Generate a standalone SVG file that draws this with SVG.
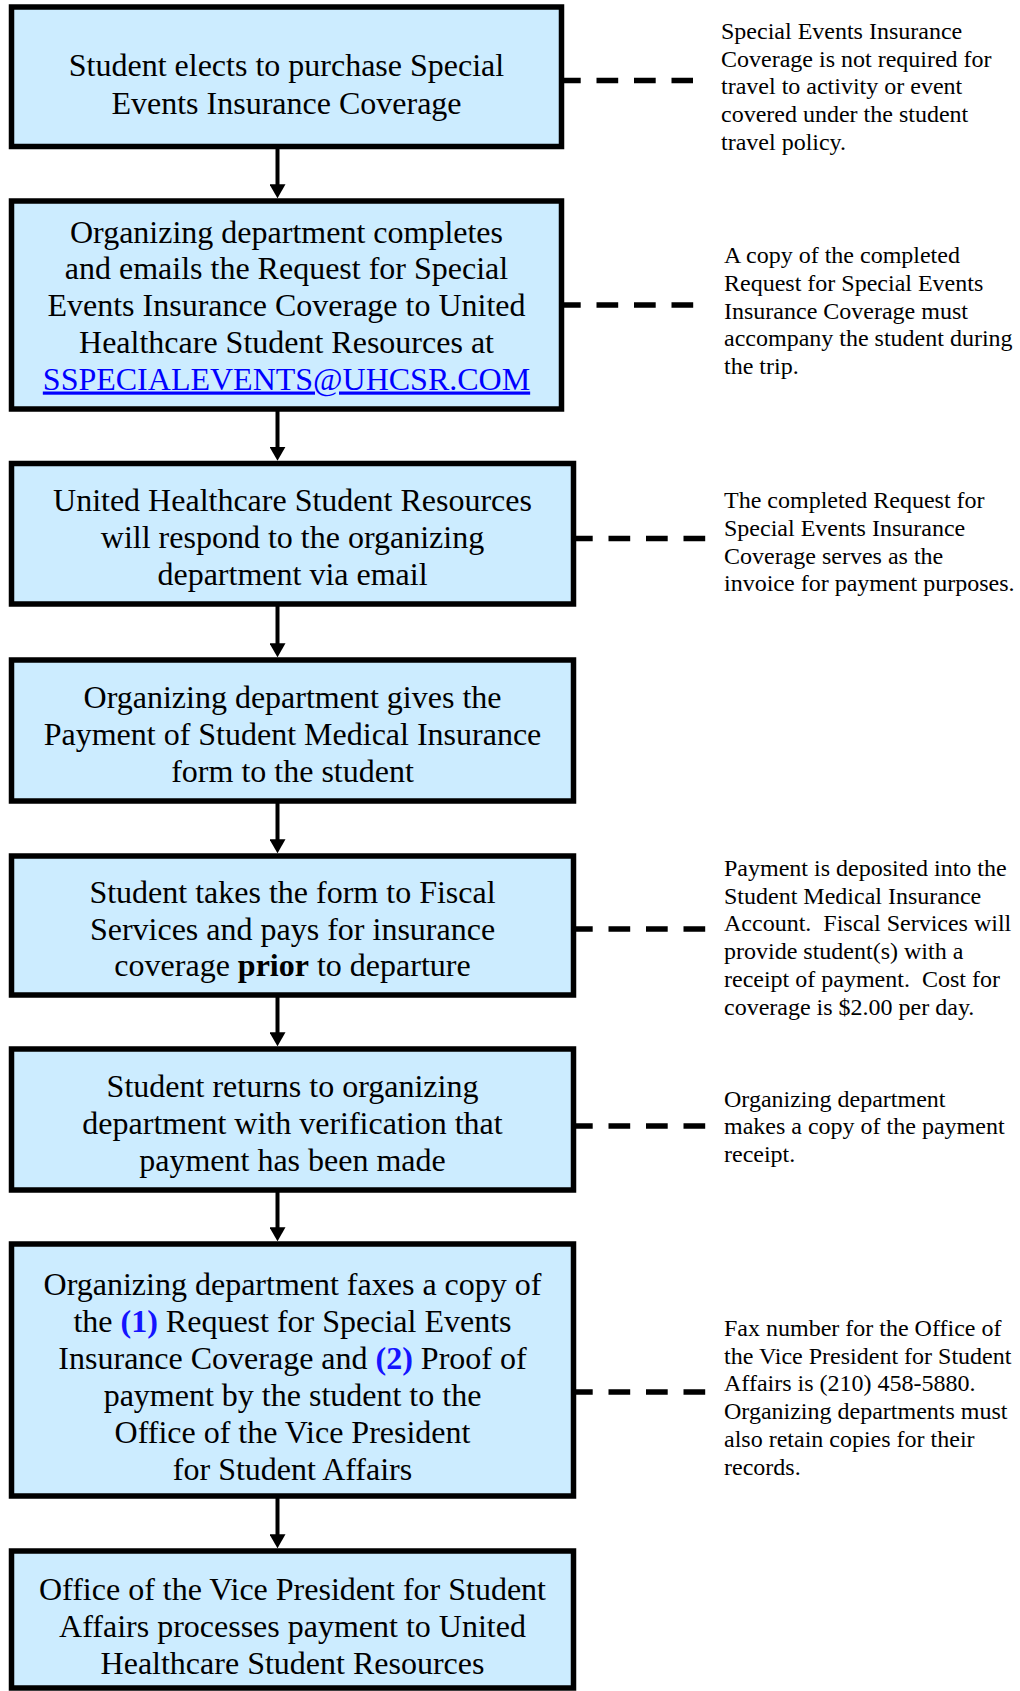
<svg xmlns="http://www.w3.org/2000/svg" width="1020" height="1691" viewBox="0 0 1020 1691">
<style>
.box{fill:#CCECFF;stroke:#000;stroke-width:5.5}
.bt{font-family:"Liberation Serif","Times New Roman",serif;font-size:32px;fill:#000;text-anchor:middle}
.nt{font-family:"Liberation Serif","Times New Roman",serif;font-size:24px;fill:#000}
.flow{stroke:#000;stroke-width:4;fill:none}
.dash{stroke:#000;stroke-width:5.5;stroke-dasharray:21.7 15.8;fill:none}
.blue{fill:#1414FF;font-weight:bold}
.link{fill:#0000FF;text-decoration:underline}
</style>
<defs>
<marker id="arr" viewBox="0 0 14 16" refX="4" refY="8" markerWidth="14" markerHeight="16" markerUnits="userSpaceOnUse" orient="auto">
<path d="M0,0 L14,8 L0,16 z" fill="#000"/>
</marker>
</defs>
<g id="connectors">
<line class="flow" x1="277.5" y1="149" x2="277.5" y2="188.3" marker-end="url(#arr)"/>
<line class="flow" x1="277.5" y1="411" x2="277.5" y2="450.8" marker-end="url(#arr)"/>
<line class="flow" x1="277.5" y1="606" x2="277.5" y2="647.3" marker-end="url(#arr)"/>
<line class="flow" x1="277.5" y1="803" x2="277.5" y2="843.3" marker-end="url(#arr)"/>
<line class="flow" x1="277.5" y1="997" x2="277.5" y2="1036.3" marker-end="url(#arr)"/>
<line class="flow" x1="277.5" y1="1192" x2="277.5" y2="1231.3" marker-end="url(#arr)"/>
<line class="flow" x1="277.5" y1="1498" x2="277.5" y2="1538.3" marker-end="url(#arr)"/>
<line class="dash" x1="559" y1="80.5" x2="693" y2="80.5"/>
<line class="dash" x1="559" y1="305" x2="695" y2="305"/>
<line class="dash" x1="571" y1="538.5" x2="707" y2="538.5"/>
<line class="dash" x1="571" y1="929" x2="707" y2="929"/>
<line class="dash" x1="571" y1="1126" x2="707" y2="1126"/>
<line class="dash" x1="571" y1="1392" x2="707" y2="1392"/>
</g>
<g id="step1">
<rect class="box" x="11.5" y="7" width="550" height="139.5"/>
<text class="bt" x="286.5" y="76"><tspan x="286.5">Student elects to purchase Special</tspan><tspan x="286.5" y="113.5">Events Insurance Coverage</tspan></text>
</g>
<g id="step2">
<rect class="box" x="11.5" y="201" width="550" height="208"/>
<text class="bt" x="286.5" y="242.5"><tspan x="286.5">Organizing department completes</tspan><tspan x="286.5" y="279.3">and emails the Request for Special</tspan><tspan x="286.5" y="316.1">Events Insurance Coverage to United</tspan><tspan x="286.5" y="352.9">Healthcare Student Resources at</tspan><tspan x="286.5" y="389.5" class="link">SSPECIALEVENTS@UHCSR.COM</tspan></text>
</g>
<g id="step3">
<rect class="box" x="11.5" y="463.5" width="562" height="140.5"/>
<text class="bt" x="292.5" y="511"><tspan x="292.5">United Healthcare Student Resources</tspan><tspan x="292.5" y="548">will respond to the organizing</tspan><tspan x="292.5" y="585">department via email</tspan></text>
</g>
<g id="step4">
<rect class="box" x="11.5" y="660" width="562" height="141"/>
<text class="bt" x="292.5" y="708"><tspan x="292.5">Organizing department gives the</tspan><tspan x="292.5" y="745">Payment of Student Medical Insurance</tspan><tspan x="292.5" y="782">form to the student</tspan></text>
</g>
<g id="step5">
<rect class="box" x="11.5" y="856" width="562" height="139"/>
<text class="bt" x="292.5" y="903"><tspan x="292.5">Student takes the form to Fiscal</tspan><tspan x="292.5" y="939.5">Services and pays for insurance</tspan><tspan x="292.5" y="976">coverage <tspan font-weight="bold">prior</tspan> to departure</tspan></text>
</g>
<g id="step6">
<rect class="box" x="11.5" y="1049" width="562" height="141"/>
<text class="bt" x="292.5" y="1097"><tspan x="292.5">Student returns to organizing</tspan><tspan x="292.5" y="1134">department with verification that</tspan><tspan x="292.5" y="1171">payment has been made</tspan></text>
</g>
<g id="step7">
<rect class="box" x="11.5" y="1244" width="562" height="252"/>
<text class="bt" x="292.5" y="1295"><tspan x="292.5">Organizing department faxes a copy of</tspan><tspan x="292.5" y="1332">the <tspan class="blue">(1)</tspan> Request for Special Events</tspan><tspan x="292.5" y="1369">Insurance Coverage and <tspan class="blue">(2)</tspan> Proof of</tspan><tspan x="292.5" y="1406">payment by the student to the</tspan><tspan x="292.5" y="1443">Office of the Vice President</tspan><tspan x="292.5" y="1480">for Student Affairs</tspan></text>
</g>
<g id="step8">
<rect class="box" x="11.5" y="1551" width="562" height="137"/>
<text class="bt" x="292.5" y="1600"><tspan x="292.5">Office of the Vice President for Student</tspan><tspan x="292.5" y="1636.8">Affairs processes payment to United</tspan><tspan x="292.5" y="1673.6">Healthcare Student Resources</tspan></text>
</g>
<g id="note1">
<text class="nt" x="721" y="39"><tspan x="721">Special Events Insurance</tspan><tspan x="721" y="66.7">Coverage is not required for</tspan><tspan x="721" y="94.4">travel to activity or event</tspan><tspan x="721" y="122.1">covered under the student</tspan><tspan x="721" y="149.8">travel policy.</tspan></text>
</g>
<g id="note2">
<text class="nt" x="724" y="263.3"><tspan x="724">A copy of the completed</tspan><tspan x="724" y="291">Request for Special Events</tspan><tspan x="724" y="318.7">Insurance Coverage must</tspan><tspan x="724" y="346.4">accompany the student during</tspan><tspan x="724" y="374.1">the trip.</tspan></text>
</g>
<g id="note3">
<text class="nt" x="724" y="508.3"><tspan x="724">The completed Request for</tspan><tspan x="724" y="536">Special Events Insurance</tspan><tspan x="724" y="563.7">Coverage serves as the</tspan><tspan x="724" y="591.4">invoice for payment purposes.</tspan></text>
</g>
<g id="note5">
<text class="nt" x="724" y="876"><tspan x="724">Payment is deposited into the</tspan><tspan x="724" y="903.7">Student Medical Insurance</tspan><tspan x="724" y="931.4">Account.&#160; Fiscal Services will</tspan><tspan x="724" y="959.1">provide student(s) with a</tspan><tspan x="724" y="986.8">receipt of payment.&#160; Cost for</tspan><tspan x="724" y="1014.5">coverage is $2.00 per day.</tspan></text>
</g>
<g id="note6">
<text class="nt" x="724" y="1106.7"><tspan x="724">Organizing department</tspan><tspan x="724" y="1134.4">makes a copy of the payment</tspan><tspan x="724" y="1162.1">receipt.</tspan></text>
</g>
<g id="note7">
<text class="nt" x="724" y="1336"><tspan x="724">Fax number for the Office of</tspan><tspan x="724" y="1363.7">the Vice President for Student</tspan><tspan x="724" y="1391.4">Affairs is (210) 458-5880.</tspan><tspan x="724" y="1419.1">Organizing departments must</tspan><tspan x="724" y="1446.8">also retain copies for their</tspan><tspan x="724" y="1474.5">records.</tspan></text>
</g>
</svg>
